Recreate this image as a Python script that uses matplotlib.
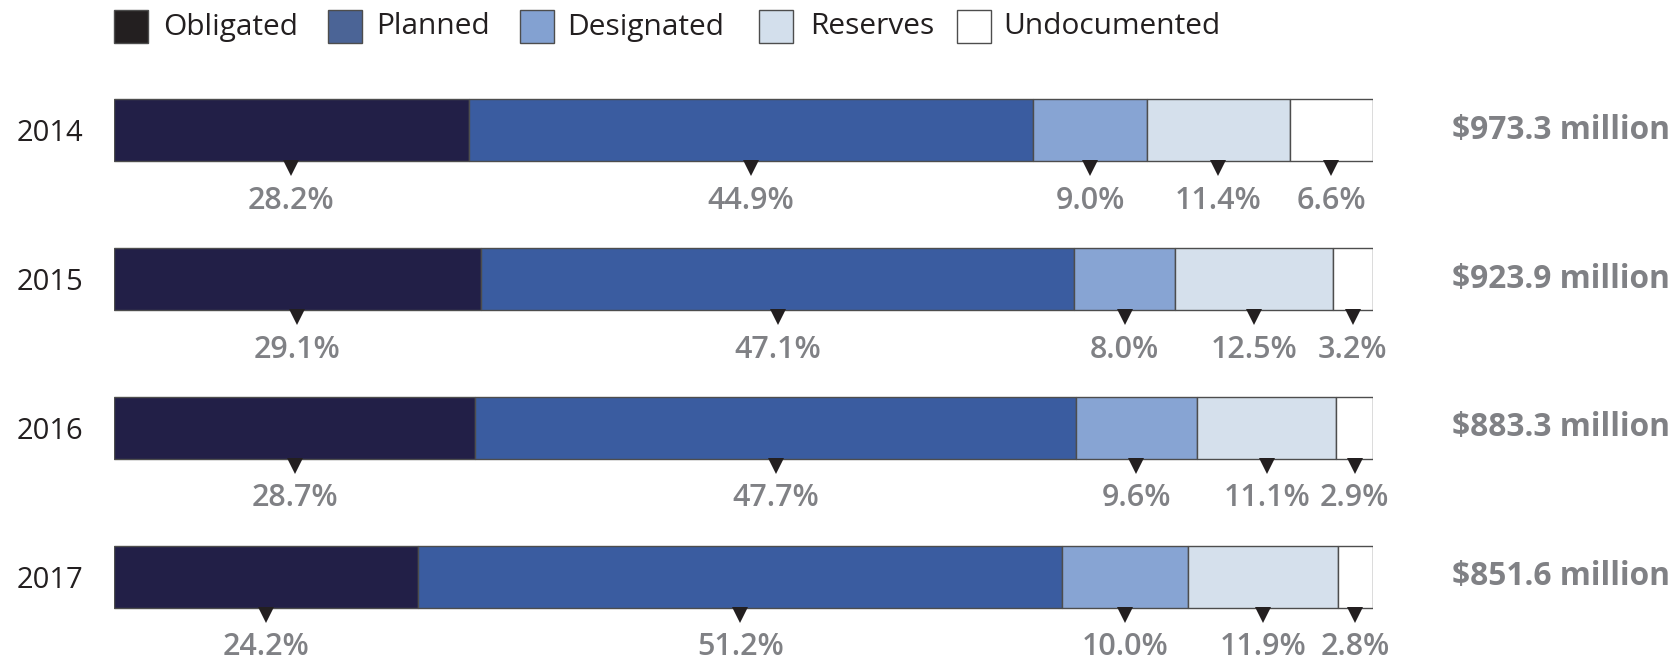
import numpy as np
import matplotlib
matplotlib.use("Agg")
import matplotlib.pyplot as plt
from matplotlib.patches import Rectangle

plt.rcParams["font.family"] = ["Open Sans", "DejaVu Sans"]

# ── DATA ───────────────────────────────────────────────────────
years = ["2014", "2015", "2016", "2017"]
categories = ["Obligated", "Planned", "Designated", "Reserves", "Undocumented"]
obligated = [28.2, 29.1, 28.7, 24.2]
planned = [44.9, 47.1, 47.7, 51.2]
designated = [9.0, 8.0, 9.6, 10.0]
reserves = [11.4, 12.5, 11.1, 11.9]
undocumented = [6.6, 3.2, 2.9, 2.8]
totals = ["$973.3 million", "$923.9 million", "$883.3 million", "$851.6 million"]

bar_colors = ["#221f47", "#3a5ca0", "#87a4d3", "#d5e0ec", "#ffffff"]
legend_colors = ["#231f20", "#4b6496", "#83a1d1", "#d3dfec", "#ffffff"]
grey = "#808185"

shares = np.array([obligated, planned, designated, reserves, undocumented])
# scale every row to its own total so all bars end at the same edge
scaled = shares / shares.sum(axis=0) * 100

# ── FIGURE ─────────────────────────────────────────────────────
fig = plt.figure(figsize=(16.8, 6.61), dpi=100)
ax = fig.add_axes([114 / 1680, 10 / 661, 1259 / 1680, 595 / 661])

rows = np.arange(len(years))
bar_h = 0.417
left = np.zeros(len(years))
for k, cat in enumerate(categories):
    ax.barh(rows, scaled[k], left=left, height=bar_h, color=bar_colors[k],
            edgecolor="#4d4d4d", linewidth=1.0)
    mids = left + scaled[k] / 2
    ax.plot(mids, rows + bar_h / 2 + 0.047, linestyle="none", marker="v",
            markersize=11, color="#231f20", markeredgewidth=0)
    for i in rows:
        ax.text(mids[i], i + 0.528, f"{shares[k][i]:.1f}%", ha="center",
                va="baseline", fontsize=22, fontweight="semibold", color=grey)
    left = left + scaled[k]

for i, t in enumerate(totals):
    ax.text(1.0627, i, t, transform=ax.get_yaxis_transform(), ha="left",
            va="center", fontsize=22.8, fontweight="bold", color=grey)

ax.set_xlim(0, 100)
ax.set_ylim(3.5, -0.5)
ax.set_yticks(rows)
ax.set_yticklabels(years, fontsize=21, color="#231f20")
ax.tick_params(axis="y", length=0, pad=22)
ax.set_xticks([])
for s in ax.spines.values():
    s.set_visible(False)

# ── LEGEND (manual, top row) ───────────────────────────────────
sq_x = [114, 328, 520, 759, 957]
tx_x = [163, 376, 567, 810, 1003]
for k, cat in enumerate(categories):
    fig.patches.append(Rectangle((sq_x[k] / 1680, 1 - 43 / 661), 34 / 1680, 33 / 661,
                                 transform=fig.transFigure, facecolor=legend_colors[k],
                                 edgecolor="#4d4d4d", linewidth=1.0))
    fig.text(tx_x[k] / 1680, 1 - 27 / 661, cat, ha="left", va="center",
             fontsize=21.5, color="#231f20")

fig.savefig("out.png", dpi=100)
